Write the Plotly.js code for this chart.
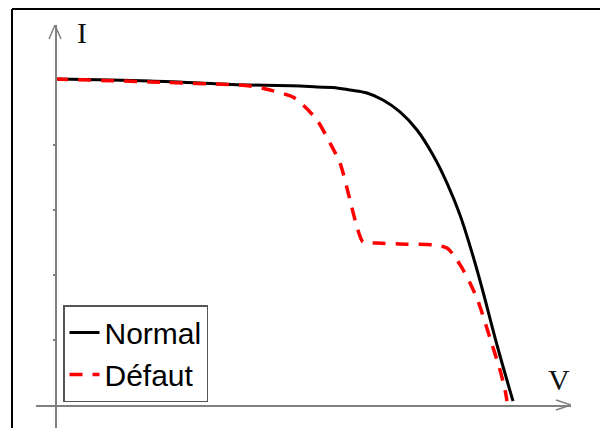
<!DOCTYPE html>
<html>
<head>
<meta charset="utf-8">
<script src="https://cdn.plot.ly/plotly-3.0.1.min.js"></script>
<style>html,body{margin:0;padding:0;background:#fff;}#chart{width:600px;height:428px;}</style>
</head>
<body>
<div id="chart"></div>
<script>
// Tension V and current I (arbitrary units)
const normalV = [0, 4.75, 9.75, 12.25, 13.1, 13.9, 14.75, 15.6, 16.4, 17.25, 18.1, 18.9, 19.6, 20.25, 20.9, 21.35, 22.1, 22.9];
const normalI = [5.015, 4.985, 4.923, 4.908, 4.892, 4.885, 4.846, 4.8, 4.692, 4.508, 4.231, 3.846, 3.415, 2.923, 2.292, 1.8, 0.923, 0.06];
const defautV = [0, 4.75, 9.75, 10.75, 11.9, 12.4, 13.1, 13.75, 14.25, 14.75, 15.1, 15.4, 16.1, 17.25, 18.9, 19.6, 20.0, 20.35, 20.75, 21.15, 21.75, 22.25, 22.5, 22.6];
const defautI = [5.015, 4.97, 4.908, 4.846, 4.738, 4.615, 4.385, 4.031, 3.723, 3.154, 2.738, 2.508, 2.492, 2.477, 2.462, 2.415, 2.277, 2.108, 1.877, 1.6, 1.031, 0.538, 0.231, 0.06];
const seriesNames = ["Normal", "Défaut"];
const yTickVals = [1, 2, 3, 4];
const axisLabels = ["I", "V"];

const xRange = [-0.95, 25.8];
const yRange = [-0.3538, 5.846];
const axisColor = "#808080";

const traces = [
  {x: normalV, y: normalI, name: seriesNames[0], mode: "lines",
   line: {color: "#000000", width: 3, shape: "spline", smoothing: 1}},
  {x: defautV, y: defautI, name: seriesNames[1], mode: "lines",
   line: {color: "#ff0000", width: 3.5, dash: "13px,10px", shape: "spline", smoothing: 0.7}}
];

const layout = {
  width: 600, height: 428,
  margin: {l: 0, r: 0, t: 0, b: 0, pad: 0},
  paper_bgcolor: "#ffffff", plot_bgcolor: "rgba(0,0,0,0)",
  showlegend: true,
  legend: {
    x: 63/600, y: 1 - 305/428, xanchor: "left", yanchor: "top",
    bgcolor: "#ffffff", bordercolor: "#555555", borderwidth: 1.5,
    font: {family: "Liberation Sans, Arial, sans-serif", size: 30, color: "#000000"},
    tracegroupgap: 0
  },
  xaxis: {
    domain: [36/600, 571/600], range: xRange, anchor: "free", position: 23/428,
    showline: true, linecolor: axisColor, linewidth: 1.5,
    showgrid: false, zeroline: false, showticklabels: false, ticks: ""
  },
  yaxis: {
    domain: [0, 403/428], range: yRange, anchor: "free", position: 55/600,
    showline: true, linecolor: axisColor, linewidth: 1.5,
    showgrid: false, zeroline: false, showticklabels: false,
    ticks: "outside", ticklen: 2, tickwidth: 1.5, tickcolor: axisColor,
    tickmode: "array", tickvals: yTickVals
  },
  shapes: [
    // frame
    {type: "line", xref: "paper", yref: "paper", x0: 12/600, x1: 12/600, y0: -0.05, y1: 1 - 9/428,
     line: {color: "#000000", width: 2}},
    {type: "line", xref: "paper", yref: "paper", x0: 12/600, x1: 1.01, y0: 1 - 9/428, y1: 1 - 9/428,
     line: {color: "#000000", width: 2}},
    // y arrow head
    {type: "path", xref: "x", yref: "y", xsizemode: "pixel", ysizemode: "pixel",
     xanchor: 0, yanchor: yRange[1], path: "M-6,-14L0,0L6,-14",
     line: {color: axisColor, width: 1.5}},
    // x arrow head
    {type: "path", xref: "x", yref: "y", xsizemode: "pixel", ysizemode: "pixel",
     xanchor: xRange[1], yanchor: 0, path: "M-15,5L0,0L-15,-5",
     line: {color: axisColor, width: 1.5}}
  ],
  annotations: [
    {text: axisLabels[0], xref: "paper", yref: "paper", x: 82/600, y: 1 - 32/428,
     xanchor: "center", yanchor: "middle", showarrow: false,
     font: {family: "Liberation Serif, Times New Roman, serif", size: 30, color: "#111111"}},
    {text: axisLabels[1], xref: "paper", yref: "paper", x: 559/600, y: 1 - 379/428,
     xanchor: "center", yanchor: "middle", showarrow: false,
     font: {family: "Liberation Serif, Times New Roman, serif", size: 30, color: "#111111"}}
  ]
};

Plotly.newPlot("chart", traces, layout, {staticPlot: true, displayModeBar: false});
</script>
</body>
</html>
